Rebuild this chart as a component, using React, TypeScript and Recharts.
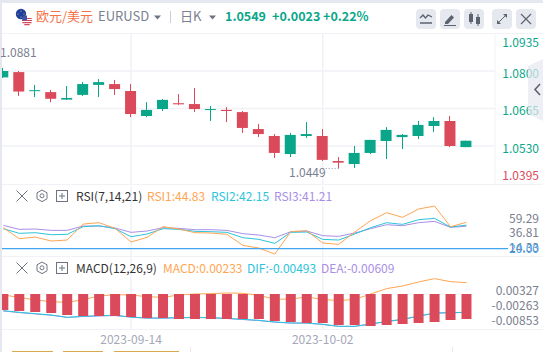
import React from "react"
import { Bar, CartesianGrid, ComposedChart, Line, ReferenceLine, XAxis, YAxis } from "recharts"

const dates = [
  "2023-09-04", "2023-09-05", "2023-09-06", "2023-09-07", "2023-09-08", "2023-09-11", "2023-09-12", "2023-09-13",
  "2023-09-14", "2023-09-15", "2023-09-18", "2023-09-19", "2023-09-20", "2023-09-21", "2023-09-22", "2023-09-25",
  "2023-09-26", "2023-09-27", "2023-09-28", "2023-09-29", "2023-10-02", "2023-10-03", "2023-10-04", "2023-10-05",
  "2023-10-06", "2023-10-09", "2023-10-10", "2023-10-11", "2023-10-12", "2023-10-13",
]
const opens = [
  1.0777, 1.0796, 1.073, 1.0724, 1.0697, 1.0714, 1.075, 1.0753, 1.0728, 1.0638, 1.0663, 1.0684, 1.0681, 1.066, 1.066,
  1.0652, 1.0591, 1.0566, 1.0501, 1.0566, 1.0566, 1.0476, 1.0465, 1.0505, 1.0548, 1.0562, 1.0566, 1.0602, 1.062, 1.0526,
]
const highs = [
  1.0811, 1.08, 1.075, 1.0732, 1.0746, 1.076, 1.0771, 1.0768, 1.0753, 1.0688, 1.0699, 1.0717, 1.0739, 1.0674, 1.067,
  1.0656, 1.0609, 1.0573, 1.0577, 1.0616, 1.0591, 1.049, 1.053, 1.0552, 1.0598, 1.0573, 1.062, 1.0634, 1.0638, 1.0549,
]
const lows = [
  1.0775, 1.071, 1.0706, 1.0688, 1.0696, 1.071, 1.0706, 1.0714, 1.0634, 1.0634, 1.0656, 1.0678, 1.0652, 1.062, 1.0616,
  1.0577, 1.0562, 1.0487, 1.049, 1.0559, 1.0476, 1.0449, 1.0451, 1.0501, 1.0483, 1.0519, 1.0555, 1.058, 1.0526, 1.0526,
]
const closes = [
  1.08, 1.0726, 1.0731, 1.07, 1.0703, 1.0753, 1.076, 1.0735, 1.0645, 1.066, 1.0696, 1.068, 1.0663, 1.0663, 1.0656,
  1.0595, 1.0573, 1.0505, 1.057, 1.0573, 1.048, 1.047, 1.0505, 1.0552, 1.0588, 1.057, 1.0606, 1.062, 1.053, 1.0549,
]
const priceTicks = [1.0935, 1.08, 1.0665, 1.053, 1.0395]
const priceGrid = [1.08, 1.0665, 1.053]
const dateTicks = [8, 20]

const rsi1 = [
  39.76, 29.41, 30.98, 27.21, 28.15, 43.21, 44.46, 39.13, 26.27, 30.66, 40.7, 38.5, 35.05, 34.74, 33.48, 23.14, 20.63,
  14.98, 35.99, 36.93, 25.33, 24.08, 35.68, 46.34, 53.87, 49.48, 57.32, 60.14, 40.7, 44.83,
]
const rsi2 = [
  38.82, 34.43, 35.05, 33.17, 33.48, 40.7, 41.64, 38.82, 31.29, 33.8, 38.82, 38.19, 36.31, 35.99, 35.37, 30.35, 28.78,
  25.02, 35.37, 35.68, 28.78, 28.15, 33.8, 39.76, 44.46, 42.89, 47.28, 48.54, 40.38, 42.15,
]
const rsi3 = [
  41.95, 38.19, 38.5, 37.25, 37.25, 41.32, 41.32, 39.44, 35.37, 36.62, 39.76, 39.13, 37.87, 37.87, 37.25, 34.11, 32.86,
  30.35, 35.99, 36.62, 32.23, 31.6, 34.74, 38.82, 42.58, 41.64, 44.46, 45.72, 40.07, 41.21,
]
const rsiTicks = [59.29, 36.81, 14.33]

const macdBars = [
  -0.00431, -0.00457, -0.00484, -0.00511, -0.00565, -0.00592, -0.00592, -0.00592, -0.00619, -0.00646, -0.00646,
  -0.00673, -0.00673, -0.00673, -0.00673, -0.00673, -0.00673, -0.00727, -0.00753, -0.0078, -0.0078, -0.00834, -0.00834,
  -0.00861, -0.00834, -0.00807, -0.0078, -0.00753, -0.007, -0.00673,
]
const macdLine = [
  -0.00027, -0.0009, -0.00161, -0.00206, -0.00224, -0.00152, -0.00054, -0.00018, -0.00027, -0.00072, -0.0009, -0.00027,
  0, 0.00009, 0.00027, 0.00018, -0.00036, -0.00144, -0.00135, -0.00081, -0.00144, -0.00179, -0.00144, 0, 0.00144,
  0.00215, 0.00323, 0.00413, 0.00332, 0.00305,
]
const difLine = [
  -0.00449, -0.00493, -0.00529, -0.00565, -0.00628, -0.00601, -0.00583, -0.00574, -0.00619, -0.00646, -0.00646,
  -0.00637, -0.00628, -0.00637, -0.00655, -0.00682, -0.00709, -0.00753, -0.0078, -0.0078, -0.00816, -0.0087, -0.0087,
  -0.00807, -0.00736, -0.00682, -0.00592, -0.00511, -0.00502, -0.00493,
]
const deaLine = [
  -0.00458, -0.005, -0.00536, -0.00572, -0.0063, -0.00606, -0.0059, -0.00581, -0.00624, -0.0065, -0.0065, -0.00642,
  -0.00633, -0.0064, -0.0066, -0.00688, -0.00715, -0.00758, -0.00783, -0.00783, -0.0082, -0.00872, -0.00872, -0.00812,
  -0.00742, -0.00688, -0.00598, -0.00518, -0.00506, -0.00496,
]
const macdTicks = [0.00327, -0.00263, -0.00853]

const candles = dates.map((date, idx) => ({
  idx,
  date,
  open: opens[idx],
  high: highs[idx],
  low: lows[idx],
  close: closes[idx],
}))
const rsiData = dates.map((date, idx) => ({ idx, date, rsi1: rsi1[idx], rsi2: rsi2[idx], rsi3: rsi3[idx] }))
const macdData = dates.map((date, idx) => ({
  idx,
  date,
  bar: macdBars[idx],
  macd: macdLine[idx],
  dif: difLine[idx],
  dea: deaLine[idx],
}))

const FONT = '"Noto Sans CJK SC", "Noto Sans", sans-serif'
const GREEN = "#0aa68a"
const RED = "#db4a5a"
const GRAY = "#7b8090"
const ORANGE = "#ffa552"
const TEAL = "#2bc4dc"
const PURPLE = "#a98ee8"
const BLUE = "#42a5f0"
const LINE = "#f1f2f6"
const CHART_W = 541

function Candle(props: any) {
  const { x, y, width, height, payload } = props
  const up = payload.close >= payload.open
  const color = up ? GREEN : RED
  const perUnit = height / (payload.high - payload.low)
  const bodyTop = y + (payload.high - Math.max(payload.open, payload.close)) * perUnit
  const bodyH = Math.max(1, Math.abs(payload.open - payload.close) * perUnit)
  return (
    <g>
      <rect x={Math.round(x + width / 2 - 0.5)} y={y} width={1} height={height} fill={color} />
      <rect x={x} y={bodyTop} width={width} height={bodyH} fill={color} />
    </g>
  )
}

function PriceTick(props: any) {
  const { y, payload } = props
  const ty = Math.min(143, Math.max(10, y + 2.5))
  return (
    <text x={CHART_W - 4} y={ty} dy={4} textAnchor="end" fontSize={12} fontFamily={FONT} fill={payload.value < 1.04 ? RED : GREEN}>
      {payload.value.toFixed(4)}
    </text>
  )
}

function ValueTick(props: any) {
  const { y, payload, digits } = props
  return (
    <text x={CHART_W - 4} y={y} dy={4} textAnchor="end" fontSize={12} fontFamily={FONT} fill={GRAY}>
      {payload.value.toFixed(digits)}
    </text>
  )
}

function Label({ x, y, color, children, size = 12, weight = 400 }: any) {
  return (
    <span
      style={{
        position: "absolute",
        left: x,
        top: y,
        color,
        fontSize: size,
        fontWeight: weight,
        lineHeight: "16px",
        whiteSpace: "nowrap",
      }}
    >
      {children}
    </span>
  )
}

function Rule({ y, x = 2 }: { y: number; x?: number }) {
  return <div style={{ position: "absolute", left: x, top: y, width: 543 - x, height: 1, background: LINE }} />
}

function PaneIcons({ y }: { y: number }) {
  return (
    <svg style={{ position: "absolute", left: 14, top: y, overflow: "visible" }} width={58} height={14} fill="none" stroke="#6f7482">
      <path d="M2.5 1.5l11 11M13.5 1.5l-11 11" />
      <path d="M28 1l5 2.8v6L28 12.6l-5-2.8v-6z" />
      <circle cx={28} cy={6.8} r={2} />
      <rect x={42.5} y={1.5} width={11} height={11} />
      <path d="M48 4v6M45 7h6" />
    </svg>
  )
}

function ToolButton({ x, children }: any) {
  return (
    <svg style={{ position: "absolute", left: x, top: 9 }} width={20} height={20}>
      <rect width={20} height={20} rx={4} fill="#e6e8f0" />
      {children}
    </svg>
  )
}

function Caret({ x }: { x: number }) {
  return (
    <svg style={{ position: "absolute", left: x, top: 15 }} width={7} height={5}>
      <path d="M0 .5h7L3.5 4.5z" fill="#6f7482" />
    </svg>
  )
}

function Flags() {
  return (
    <svg style={{ position: "absolute", left: 15, top: 8 }} width={19} height={18}>
      <circle cx={6} cy={6} r={5.2} fill="#1f3f9e" />
      <circle cx={6} cy={3} r={0.6} fill="#e8c840" />
      <circle cx={3} cy={6} r={0.6} fill="#e8c840" />
      <circle cx={9} cy={6} r={0.6} fill="#e8c840" />
      <circle cx={6} cy={9} r={0.6} fill="#e8c840" />
      <circle cx={12} cy={12.5} r={5} fill="#fff" />
      <path d="M7.3 10.5h9.4M7 12.5h10M7.4 14.6h9.2M9.3 16.6h5.4" stroke="#d9485a" strokeWidth={1.2} />
      <path d="M7.3 9.5a5 5 0 0 1 4.7-2v5H7z" fill="#3f56a8" />
    </svg>
  )
}

export default function App() {
  return (
    <div style={{ position: "absolute", left: 0, top: 0, width: 543, height: 352, overflow: "hidden", background: "#fff", fontFamily: FONT }}>
      <div style={{ position: "absolute", left: 0, top: 0, width: 543, height: 3, background: "#e6e8f0" }} />
      <div style={{ position: "absolute", left: 0, top: 0, width: 2, height: 352, background: "#e6e8f0" }} />
      <Rule y={33} />
      <Rule y={184} />
      <Rule y={256} />
      <Rule y={329} />

      <Flags />
      <Label x={36} y={8} color="#f5734a" size={13}>欧元/美元</Label>
      <Label x={98} y={8} color={GRAY} size={13}>EURUSD</Label>
      <Caret x={154} />
      <div style={{ position: "absolute", left: 170, top: 11, width: 1, height: 12, background: "#c8ccd8" }} />
      <Label x={180} y={8} color={GRAY} size={13}>日K</Label>
      <Caret x={209} />
      <Label x={225} y={8} color={GREEN} size={12.5} weight={700}>1.0549</Label>
      <Label x={272} y={8} color={GREEN} size={12.5} weight={700}>+0.0023</Label>
      <Label x={323} y={8} color={GREEN} size={12.5} weight={700}>+0.22%</Label>

      <ToolButton x={416}>
        <path d="M4 9l3-3 2.5 3L12 6l4 2" fill="none" stroke="#5d6270" strokeWidth={1.3} />
        <path d="M4 14h12" stroke="#5d6270" strokeWidth={1.5} />
      </ToolButton>
      <ToolButton x={440}>
        <path d="M5 13l6.5-7 2.5 2.5L8 15H5z" fill="#5d6270" />
        <path d="M4 16.5h12" stroke="#5d6270" strokeWidth={1} />
      </ToolButton>
      <ToolButton x={464}>
        <rect x={5} y={5} width={4} height={8} fill="#5d6270" />
        <path d="M7 3v12" stroke="#5d6270" />
        <rect x={12} y={8} width={4} height={7} fill="#5d6270" />
        <path d="M14 5v12" stroke="#5d6270" />
      </ToolButton>
      <ToolButton x={492}>
        <path d="M6 14l8-8" stroke="#5d6270" />
        <path d="M11 5h4v4zM5 11v4h4z" fill="#5d6270" />
      </ToolButton>
      <ToolButton x={516}>
        <path d="M5 5l10 10M15 5L5 15" stroke="#5d6270" strokeWidth={1.2} />
      </ToolButton>

      <div style={{ position: "absolute", left: 2, top: 33 }}>
        <ComposedChart width={CHART_W} height={152} data={candles} margin={{ top: 0, right: 0, bottom: 0, left: 0 }}>
          <CartesianGrid stroke={LINE} strokeWidth={1.5} verticalValues={dateTicks} horizontalValues={priceGrid} />
          <XAxis dataKey="idx" type="number" domain={[-0.0814, 30.79]} ticks={dateTicks} hide allowDataOverflow />
          <YAxis
            orientation="right"
            width={48}
            domain={[1.03896, 1.09368]}
            ticks={priceTicks}
            interval={0}
            allowDataOverflow
            tickLine={false}
            axisLine={{ stroke: LINE }}
            tick={<PriceTick />}
          />
          <ReferenceLine
            segment={[{ x: 21, y: 1.0449 }, { x: 20.03, y: 1.0449 }]}
            stroke="#9a9eac"
            strokeDasharray="1 2"
          />
          <Bar dataKey={(d: any) => [d.low, d.high]} barSize={11} shape={<Candle />} isAnimationActive={false} />
        </ComposedChart>
      </div>
      <Label x={0} y={44} color={GRAY}>1.0881</Label>
      <Label x={289} y={164} color={GRAY}>1.0449</Label>

      {/* side tab sits over the price labels */}
      <svg style={{ position: "absolute", left: 528, top: 58 }} width={15} height={64}>
        <path d="M15 1L0 8v48l15 7z" fill="#e6e8f0" fillOpacity={0.7} />
        <path d="M12 26l-5 5.5 5 5.5" fill="none" stroke="#5d6270" strokeWidth={1.6} />
      </svg>

      <div style={{ position: "absolute", left: 2, top: 186 }}>
        <ComposedChart width={CHART_W} height={70} data={rsiData} margin={{ top: 0, right: 0, bottom: 0, left: 0 }}>
          <CartesianGrid stroke={LINE} strokeWidth={1.5} horizontal={false} verticalValues={dateTicks} />
          <XAxis dataKey="idx" type="number" domain={[-0.0814, 31.6]} ticks={dateTicks} hide allowDataOverflow />
          <YAxis yAxisId="value" hide domain={[13.13, 78.98]} allowDataOverflow />
          <YAxis
            yAxisId="label"
            orientation="right"
            width={35}
            domain={[1.86, 109.64]}
            ticks={rsiTicks}
            interval={0}
            tickLine={false}
            axisLine={false}
            tick={<ValueTick digits={2} />}
          />
          <Line yAxisId="label" dataKey="rsi1" stroke="none" dot={false} isAnimationActive={false} />
          <Line yAxisId="value" dataKey="rsi3" stroke={PURPLE} dot={false} strokeWidth={1} isAnimationActive={false} />
          <Line yAxisId="value" dataKey="rsi2" stroke={TEAL} dot={false} strokeWidth={1} isAnimationActive={false} />
          <Line yAxisId="value" dataKey="rsi1" stroke={ORANGE} dot={false} strokeWidth={1} isAnimationActive={false} />
          <ReferenceLine
            yAxisId="value"
            y={20}
            stroke={BLUE}
            strokeWidth={1.2}
            label={{ value: "20.00", position: "right", offset: 1, fontSize: 12, fontFamily: FONT, fill: BLUE }}
          />
        </ComposedChart>
      </div>
      <PaneIcons y={189} />
      <Label x={76} y={188} color="#333">RSI(7,14,21)</Label>
      <Label x={147} y={188} color={ORANGE}>RSI1:44.83</Label>
      <Label x={211} y={188} color={TEAL}>RSI2:42.15</Label>
      <Label x={274} y={188} color={PURPLE}>RSI3:41.21</Label>

      <div style={{ position: "absolute", left: 2, top: 256 }}>
        <ComposedChart width={CHART_W} height={91} data={macdData} margin={{ top: 0, right: 0, bottom: 0, left: 0 }}>
          <CartesianGrid stroke={LINE} strokeWidth={1.5} horizontal={false} verticalValues={dateTicks} />
          <XAxis
            dataKey="idx"
            type="number"
            domain={[-0.0814, 31.6]}
            ticks={dateTicks}
            interval={0}
            height={18}
            tickLine={false}
            axisLine={false}
            allowDataOverflow
            tickMargin={0}
            tickFormatter={(i: number) => dates[i]}
            tick={{ fontSize: 12, fontFamily: FONT, fill: "#a5a8b8" }}
          />
          <YAxis yAxisId="value" hide domain={[-0.00942, 0.01022]} allowDataOverflow />
          <YAxis
            yAxisId="label"
            orientation="right"
            width={35}
            domain={[-0.0118, 0.01692]}
            ticks={macdTicks}
            interval={0}
            tickLine={false}
            axisLine={false}
            tick={<ValueTick digits={5} />}
          />
          <Line yAxisId="label" dataKey="dif" stroke="none" dot={false} isAnimationActive={false} />
          <Line yAxisId="value" dataKey="dea" stroke={PURPLE} dot={false} strokeWidth={1} isAnimationActive={false} />
          <Line yAxisId="value" dataKey="dif" stroke={TEAL} dot={false} strokeWidth={1} isAnimationActive={false} />
          <Line yAxisId="value" dataKey="macd" stroke={ORANGE} dot={false} strokeWidth={1} isAnimationActive={false} />
        </ComposedChart>
      </div>
      {/* bars sit above the MACD lines, so they get their own layer */}
      <div style={{ position: "absolute", left: 2, top: 256 }}>
        <ComposedChart width={CHART_W} height={73} data={macdData} margin={{ top: 0, right: 35, bottom: 0, left: 0 }}>
          <XAxis dataKey="idx" type="number" domain={[-0.0814, 31.6]} ticks={dateTicks} hide allowDataOverflow />
          <YAxis hide domain={[-0.00942, 0.01022]} allowDataOverflow />
          <Bar dataKey="bar" fill={RED} barSize={10} isAnimationActive={false} />
        </ComposedChart>
      </div>
      <PaneIcons y={261} />
      <Label x={76} y={260} color="#333">MACD(12,26,9)</Label>
      <Label x={163} y={260} color={ORANGE}>MACD:0.00233</Label>
      <Label x={247} y={260} color={TEAL}>DIF:-0.00493</Label>
      <Label x={321} y={260} color={PURPLE}>DEA:-0.00609</Label>

      <div style={{ position: "absolute", left: 12, top: 351, width: 41, height: 1, background: "#d9a94f" }} />
      <div style={{ position: "absolute", left: 63, top: 351, width: 40, height: 1, background: "#d9a94f" }} />
      <div style={{ position: "absolute", left: 114, top: 351, width: 65, height: 1, background: "#d9a94f" }} />
      <div style={{ position: "absolute", left: 190, top: 347, width: 1, height: 5, background: "#e6e8f0" }} />
      <div style={{ position: "absolute", left: 452, top: 347, width: 1, height: 5, background: "#e6e8f0" }} />
    </div>
  )
}
